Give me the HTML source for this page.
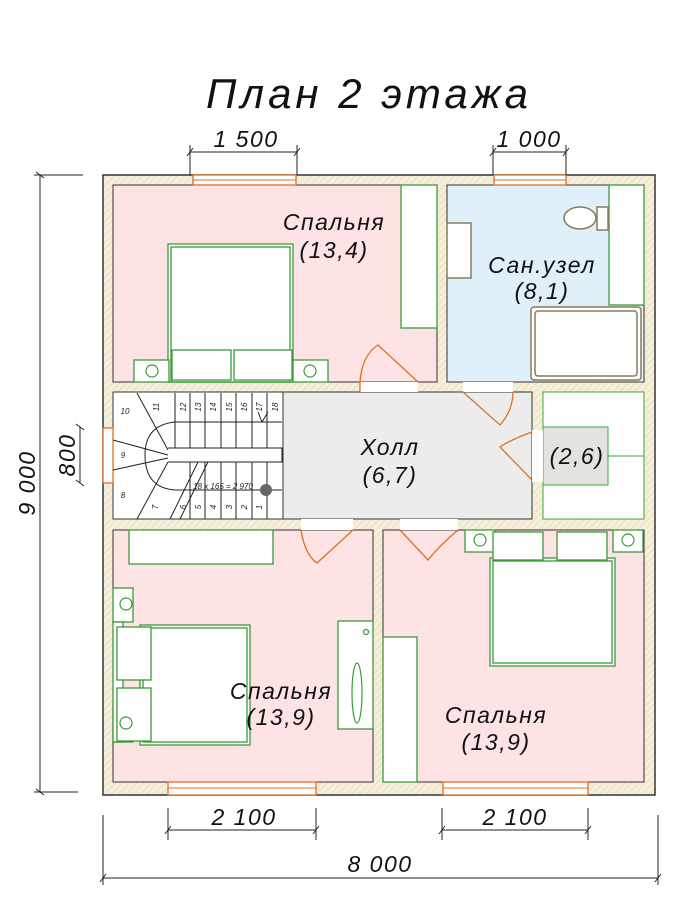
<!DOCTYPE html><html><head><meta charset="utf-8"><style>body{margin:0;background:#fff}svg{display:block}text{font-family:"Liberation Sans",sans-serif;font-style:italic}</style></head><body>
<svg width="678" height="910" viewBox="0 0 678 910" xmlns="http://www.w3.org/2000/svg">
<defs><pattern id="h" width="5" height="5" patternUnits="userSpaceOnUse" patternTransform="rotate(45)"><rect width="5" height="5" fill="#f5eedb"/><line x1="0" y1="0" x2="0" y2="5" stroke="#e2d6b4" stroke-width="1.2"/></pattern></defs>
<text x="369" y="108" font-size="42" text-anchor="middle" fill="#111" letter-spacing="4">План 2 этажа</text>
<rect x="103" y="175" width="552" height="620" fill="url(#h)" stroke="#333" stroke-width="1.5"/>
<rect x="113" y="185" width="324" height="197" fill="#fde3e3" stroke="#333"/>
<rect x="447" y="185" width="197" height="197" fill="#dff0fb" stroke="#333"/>
<rect x="113" y="392" width="170" height="127" fill="#fff" stroke="#333"/>
<rect x="283" y="392" width="249" height="127" fill="#ececec" stroke="#333"/>
<rect x="543" y="392" width="101" height="127" fill="#fff" stroke="#3a3"/>
<rect x="543" y="427" width="65" height="58" fill="#e4e2dd" stroke="#3a3"/>
<line x1="608" y1="456" x2="644" y2="456" stroke="#3a3"/>
<rect x="113" y="530" width="260" height="252" fill="#fde3e3" stroke="#333"/>
<rect x="383" y="530" width="261" height="252" fill="#fde3e3" stroke="#333"/>
<g fill="#fff" stroke="#e07020" stroke-width="1.3">
<rect x="193" y="175" width="103" height="10"/><rect x="494" y="175" width="72" height="10"/>
<rect x="168" y="782" width="148" height="13"/><rect x="443" y="782" width="145" height="13"/>
<rect x="103" y="428" width="10" height="55"/>
</g>
<g stroke="#e07020" stroke-width="1"><line x1="193" y1="180" x2="296" y2="180"/><line x1="494" y1="180" x2="566" y2="180"/><line x1="168" y1="788" x2="316" y2="788"/><line x1="443" y1="788" x2="588" y2="788"/></g>
<g fill="#fff"><rect x="360" y="382" width="58" height="10"/><rect x="463" y="382" width="50" height="10"/><rect x="532" y="430" width="11" height="52"/><rect x="301" y="519" width="52" height="11"/><rect x="400" y="519" width="58" height="11"/></g>
<g fill="none" stroke="#e07020" stroke-width="1.3">
<path d="M360 392 L360 382 Q362 355 378 345 L418 382"/>
<path d="M463 392 L500 425 Q513 410 513 392"/>
<path d="M532 432 Q510 440 500 447 L532 480"/>
<path d="M301 530 Q305 555 317 563 L353 530"/>
<path d="M400 530 L428 560 Q440 545 458 530"/>
</g>
<g fill="#fff" stroke="#3a9a3a" stroke-width="1.3">
<rect x="401" y="185" width="36" height="143"/>
<rect x="168" y="244" width="125" height="138"/><rect x="171" y="247" width="119" height="135" fill="none"/>
<rect x="134" y="360" width="35" height="22"/><rect x="293" y="360" width="35" height="22"/>
<rect x="172" y="350" width="59" height="30"/><rect x="234" y="350" width="58" height="30"/>
<rect x="609" y="185" width="35" height="120"/>
<rect x="129" y="530" width="144" height="34"/>
<rect x="113" y="588" width="20" height="34"/><rect x="113" y="708" width="20" height="34"/>
<rect x="113" y="622" width="10" height="120"/>
<rect x="140" y="625" width="110" height="120"/><rect x="143" y="628" width="104" height="114" fill="none"/>
<rect x="117" y="627" width="34" height="53"/><rect x="117" y="688" width="34" height="53"/>
<rect x="338" y="621" width="35" height="108"/>
<rect x="383" y="637" width="34" height="145"/>
<rect x="465" y="530" width="30" height="22"/><rect x="613" y="530" width="30" height="22"/>
<rect x="490" y="558" width="125" height="108"/><rect x="493" y="561" width="119" height="102" fill="none"/>
<rect x="493" y="532" width="50" height="28"/><rect x="557" y="532" width="50" height="28"/>
</g>
<g fill="none" stroke="#3a9a3a" stroke-width="1.2">
<circle cx="152" cy="371" r="6"/><circle cx="310" cy="371" r="6"/><circle cx="126" cy="604" r="6"/><circle cx="126" cy="723" r="6"/><circle cx="480" cy="540" r="6"/><circle cx="628" cy="540" r="6"/><circle cx="366" cy="632" r="2.5"/>
<ellipse cx="357" cy="693" rx="5" ry="30"/>
</g>
<g fill="#fff" stroke="#8a7a5a" stroke-width="1.5">
<rect x="531" y="307" width="110" height="73" rx="3"/><rect x="535" y="311" width="102" height="65" rx="3"/>
<rect x="447" y="223" width="24" height="55"/><ellipse cx="580" cy="218" rx="16" ry="11"/><rect x="597" y="207" width="11" height="23"/>
</g>
<g fill="none" stroke="#222" stroke-width="1">
<path d="M175 393V448M190 393V448M205 393V448M221 393V448M236 393V448M252 393V448M267 393V448"/>
<path d="M190 462V519M205 462V519M221 462V519M236 462V519M252 462V519M267 462V519"/>
<path d="M168 448H282V462H168"/><path d="M175 422H282M175 490H282"/>
<path d="M175 422 Q145 425 145 455 Q145 488 175 490"/>
<path d="M137 393L168 450M113 440L168 455M113 470L168 458M137 519L168 462M170 519L198 462M180 519L208 462"/>
<path d="M262 422L258 412M262 422L268 412"/>
</g>
<circle cx="266" cy="490" r="6" fill="#666"/>
<g font-size="8" font-style="normal" fill="#222" text-anchor="middle">
<text x="125" y="414">10</text><text x="123" y="458">9</text><text x="123" y="498">8</text>
<text x="156" y="410" transform="rotate(-90 156 407)">11</text>
<text x="183" y="410" transform="rotate(-90 183 407)">12</text><text x="198" y="410" transform="rotate(-90 198 407)">13</text><text x="213" y="410" transform="rotate(-90 213 407)">14</text><text x="229" y="410" transform="rotate(-90 229 407)">15</text><text x="244" y="410" transform="rotate(-90 244 407)">16</text><text x="259" y="410" transform="rotate(-90 259 407)">17</text><text x="275" y="410" transform="rotate(-90 275 407)">18</text>
<text x="155" y="510" transform="rotate(-90 155 507)">7</text><text x="183" y="510" transform="rotate(-90 183 507)">6</text><text x="198" y="510" transform="rotate(-90 198 507)">5</text><text x="213" y="510" transform="rotate(-90 213 507)">4</text><text x="229" y="510" transform="rotate(-90 229 507)">3</text><text x="244" y="510" transform="rotate(-90 244 507)">2</text><text x="259" y="510" transform="rotate(-90 259 507)">1</text>
<text x="223" y="489">18 x 165 = 2 970</text>
</g>
<g font-size="23" fill="#111" text-anchor="middle" letter-spacing="1.5">
<text x="334" y="230">Спальня</text><text x="334" y="258">(13,4)</text>
<text x="542" y="273">Сан.узел</text><text x="542" y="299">(8,1)</text>
<text x="390" y="455">Холл</text><text x="390" y="483">(6,7)</text>
<text x="577" y="464">(2,6)</text>
<text x="281" y="699">Спальня</text><text x="281" y="725">(13,9)</text>
<text x="496" y="723">Спальня</text><text x="496" y="750">(13,9)</text>
</g>
<g stroke="#222" stroke-width="1" fill="none">
<path d="M40 175V792M36 172L44 178M36 789L44 795M34 175H83M34 792H78"/>
<path d="M80 427V483M76 424L84 430M76 480L84 486"/>
<path d="M190 152H297M190 145V175M297 145V175M187 156L193 148M294 156L300 148"/>
<path d="M493 152H566M493 145V175M566 145V175M490 156L496 148M563 156L569 148"/>
<path d="M168 830H316M168 808V840M316 808V840M165 834L171 826M313 834L319 826"/>
<path d="M442 830H588M442 808V840M588 808V840M439 834L445 826M585 834L591 826"/>
<path d="M103 878H658M103 815V885M658 815V885M100 882L106 874M655 882L661 874"/>
</g>
<g font-size="23" fill="#111" text-anchor="middle" letter-spacing="1.5">
<text x="246" y="147">1 500</text><text x="529" y="147">1 000</text>
<text x="244" y="825">2 100</text><text x="515" y="825">2 100</text>
<text x="380" y="872">8 000</text>
<text x="35" y="483" transform="rotate(-90 35 483)">9 000</text>
<text x="75" y="455" transform="rotate(-90 75 455)">800</text>
</g>
</svg></body></html>
